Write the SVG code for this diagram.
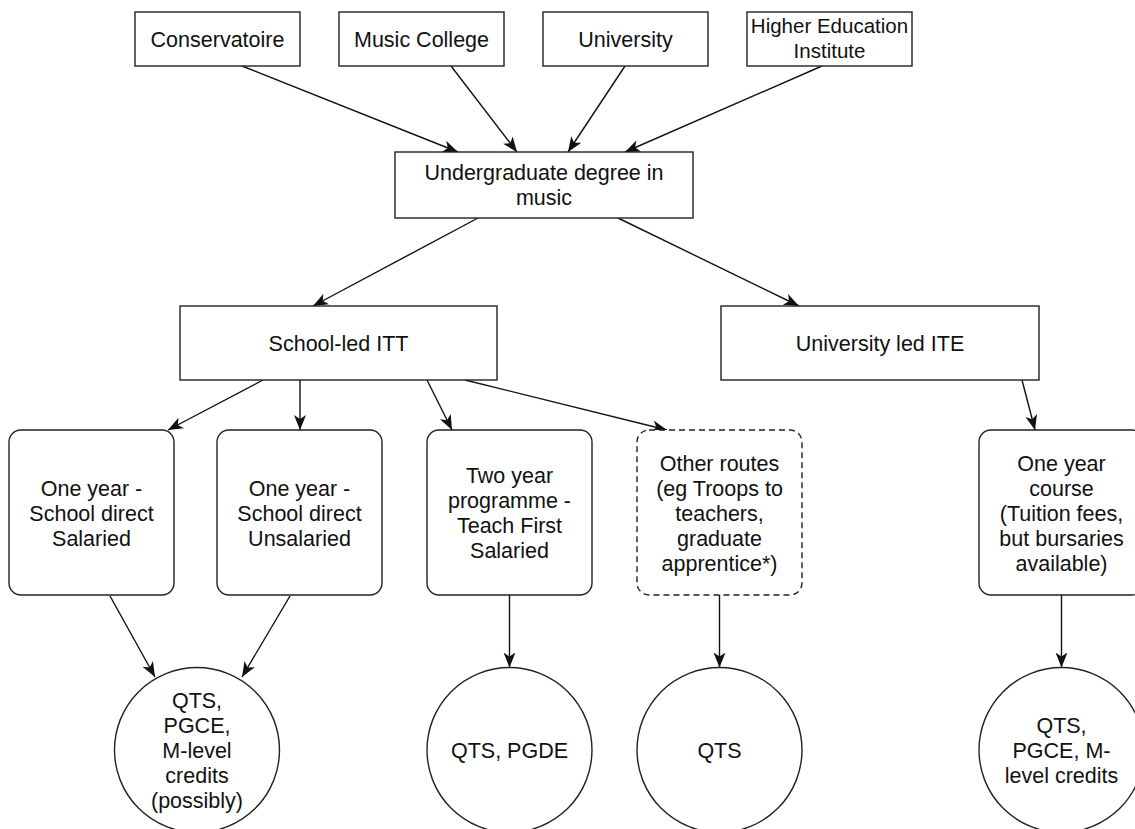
<svg xmlns="http://www.w3.org/2000/svg" width="1135" height="829" viewBox="0 0 1135 829">
<defs>
<marker id="arr" markerUnits="userSpaceOnUse" markerWidth="18" markerHeight="14" refX="15" refY="6" orient="auto">
<path d="M0,0 L15,6 L0,12 L4,6 Z" fill="#111"/>
</marker>
<style>
.box{fill:#fff;stroke:#222;stroke-width:1.4}
.dash{fill:#fff;stroke:#222;stroke-width:1.4;stroke-dasharray:6 4}
.t{font-family:"Liberation Sans",Arial,Helvetica,sans-serif;font-size:21.5px;fill:#111;text-anchor:middle}
.c line{stroke:#111;stroke-width:1.4;marker-end:url(#arr)}
</style>
</defs>
<rect width="1135" height="829" fill="#fff"/>
<g class="c" id="connectors">
<line x1="242" y1="66" x2="458" y2="152"/>
<line x1="451" y1="66" x2="517" y2="152"/>
<line x1="625" y1="66" x2="568" y2="152"/>
<line x1="822" y1="66" x2="625" y2="152"/>
<line x1="478" y1="218" x2="313" y2="306"/>
<line x1="618" y1="218" x2="799" y2="306"/>
<line x1="263" y1="380" x2="168" y2="430"/>
<line x1="300" y1="380" x2="300" y2="430"/>
<line x1="427" y1="380" x2="452" y2="430"/>
<line x1="465" y1="380" x2="667" y2="430"/>
<line x1="1022" y1="380" x2="1035" y2="430"/>
<line x1="110" y1="596" x2="155" y2="677"/>
<line x1="290" y1="596" x2="242" y2="677"/>
<line x1="509.5" y1="595" x2="509.5" y2="667.5"/>
<line x1="719.5" y1="595" x2="719.5" y2="667.5"/>
<line x1="1061.5" y1="595" x2="1061.5" y2="667.5"/>
</g>
<g id="conservatoire"><rect class="box" x="135" y="12" width="165" height="54"/><text class="t" x="217.5" y="46.5">Conservatoire</text></g>
<g id="music-college"><rect class="box" x="339" y="12" width="165" height="54"/><text class="t" x="421.5" y="46.5">Music College</text></g>
<g id="university"><rect class="box" x="543" y="12" width="165" height="54"/><text class="t" x="625.5" y="46.5">University</text></g>
<g id="hei"><rect class="box" x="747" y="12" width="165" height="54"/><text class="t" x="829.5" y="33" style="font-size:20.5px">Higher Education</text><text class="t" x="829.5" y="58" style="font-size:20.5px">Institute</text></g>
<g id="undergrad"><rect class="box" x="395" y="152" width="298" height="66"/><text class="t" x="544" y="180">Undergraduate degree in</text><text class="t" x="544" y="205">music</text></g>
<g id="school-led"><rect class="box" x="180" y="306" width="317" height="74"/><text class="t" x="338.5" y="350.5">School-led ITT</text></g>
<g id="university-led"><rect class="box" x="721" y="306" width="318" height="74"/><text class="t" x="880" y="350.5">University led ITE</text></g>
<g id="sd-salaried"><rect class="box" x="9" y="430" width="165" height="165" rx="12"/><text class="t" x="91.5" y="495.5">One year -</text><text class="t" x="91.5" y="520.5">School direct</text><text class="t" x="91.5" y="545.5">Salaried</text></g>
<g id="sd-unsalaried"><rect class="box" x="217" y="430" width="165" height="165" rx="12"/><text class="t" x="299.5" y="495.5">One year -</text><text class="t" x="299.5" y="520.5">School direct</text><text class="t" x="299.5" y="545.5">Unsalaried</text></g>
<g id="teach-first"><rect class="box" x="427" y="430" width="165" height="165" rx="12"/><text class="t" x="509.5" y="483">Two year</text><text class="t" x="509.5" y="508">programme -</text><text class="t" x="509.5" y="533">Teach First</text><text class="t" x="509.5" y="558">Salaried</text></g>
<g id="other-routes"><rect class="dash" x="637" y="430" width="165" height="165" rx="12"/><text class="t" x="719.5" y="470.5">Other routes</text><text class="t" x="719.5" y="495.5">(eg Troops to</text><text class="t" x="719.5" y="520.5">teachers,</text><text class="t" x="719.5" y="545.5">graduate</text><text class="t" x="719.5" y="570.5">apprentice*)</text></g>
<g id="one-year-course"><rect class="box" x="979" y="430" width="165" height="165" rx="12"/><text class="t" x="1061.5" y="470.5">One year</text><text class="t" x="1061.5" y="495.5">course</text><text class="t" x="1061.5" y="520.5">(Tuition fees,</text><text class="t" x="1061.5" y="545.5">but bursaries</text><text class="t" x="1061.5" y="570.5">available)</text></g>
<g id="out-1"><circle class="box" cx="197" cy="750" r="82.5"/><text class="t" x="197" y="707.5">QTS,</text><text class="t" x="197" y="732.5">PGCE,</text><text class="t" x="197" y="757.5">M-level</text><text class="t" x="197" y="782.5">credits</text><text class="t" x="197" y="807.5">(possibly)</text></g>
<g id="out-2"><circle class="box" cx="509.5" cy="750" r="82.5"/><text class="t" x="509.5" y="757.5">QTS, PGDE</text></g>
<g id="out-3"><circle class="box" cx="719.5" cy="750" r="82.5"/><text class="t" x="719.5" y="757.5">QTS</text></g>
<g id="out-4"><circle class="box" cx="1061.5" cy="750" r="82.5"/><text class="t" x="1061.5" y="732.5">QTS,</text><text class="t" x="1061.5" y="757.5">PGCE, M-</text><text class="t" x="1061.5" y="782.5">level credits</text></g>
</svg>
